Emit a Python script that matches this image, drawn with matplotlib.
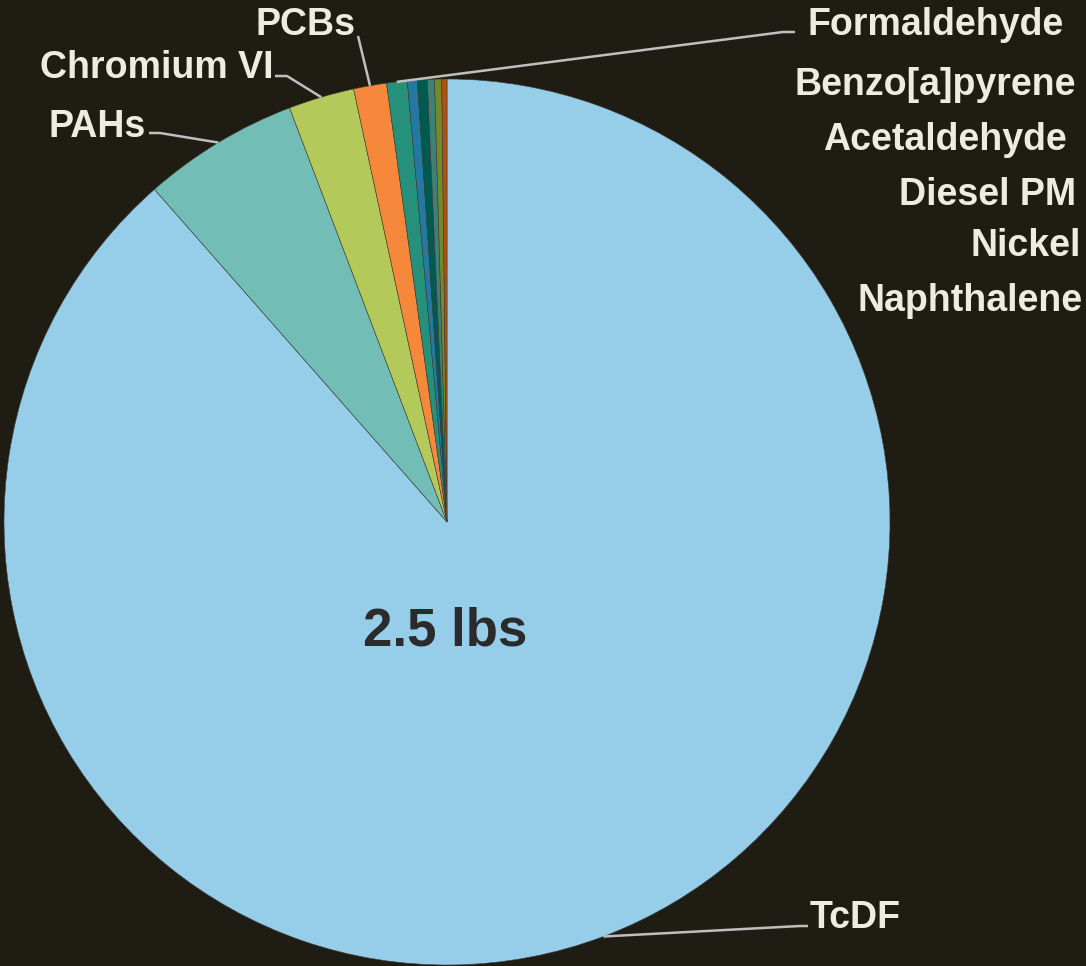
import numpy as np
import matplotlib.pyplot as plt

# pollutant shares of the 2.5 lbs total
pollutants = ["TcDF", "PAHs", "Chromium VI", "PCBs", "Formaldehyde",
              "Benzo[a]pyrene", "Acetaldehyde", "Diesel PM", "Nickel", "Naphthalene"]
shares = [88.5, 5.7, 2.4, 1.2, 0.75, 0.36, 0.36, 0.26, 0.26, 0.19]
colors = ["#96CDE8", "#72BDB5", "#B3CA5A", "#F5883A", "#25917A",
          "#2479A0", "#005A50", "#3E7F78", "#73892A", "#B2500F"]
total_label = "2.5 lbs"

W, H = 1086, 966
bg = "#1F1C13"
txt = "#EEEBE0"
line_col = "#BFBFBF"

fig = plt.figure(figsize=(W / 100, H / 100), dpi=100, facecolor=bg)
ax = fig.add_axes([0, 0, 1, 1])
ax.set_facecolor(bg)

cx, cy, r = 447, H - 522, 443
wedges, _ = ax.pie(shares, colors=colors, startangle=90, counterclock=False,
                   center=(cx, cy), radius=r,
                   wedgeprops=dict(linewidth=0.4, edgecolor="#40403a"))

ax.set_xlim(0, W)
ax.set_ylim(0, H)
ax.set_aspect("equal")
ax.axis("off")

plt.rcParams["font.family"] = ["Liberation Sans", "DejaVu Sans"]


def edge_point(w):
    mid = np.deg2rad((w.theta1 + w.theta2) / 2)
    return cx + r * np.cos(mid), cy + r * np.sin(mid)


# label text (x, y in pixels from top-left), alignment, elbow points of leader line
labels = {
    "TcDF": ((810, 918), "left", [(800, 926), (808, 926)]),
    "PAHs": ((146, 127), "right", [(160, 133), (149, 133)]),
    "Chromium VI": ((273, 68), "right", [(287, 76), (275, 76)]),
    "PCBs": ((355, 25), "right", [(358, 36)]),
    "Formaldehyde": ((808, 25), "left", [(783, 32), (795, 32)]),
    "Benzo[a]pyrene": ((1076, 85), "right", None),
    "Acetaldehyde": ((1067, 140), "right", None),
    "Diesel PM": ((1076, 195), "right", None),
    "Nickel": ((1081, 246), "right", None),
    "Naphthalene": ((1083, 301), "right", None),
}

for w, name in zip(wedges, pollutants):
    (tx, ty), ha, elbow = labels[name]
    ax.text(tx, H - ty, name, ha=ha, va="center", color=txt,
            fontsize=27, fontweight="bold")
    if elbow:
        ex, ey = edge_point(w)
        xs = [ex] + [p[0] for p in elbow]
        ys = [ey] + [H - p[1] for p in elbow]
        ax.plot(xs, ys, color=line_col, lw=1.8, solid_capstyle="butt")

ax.text(445, H - 631, total_label, ha="center", va="center",
        color="#2B2B2B", fontsize=38, fontweight="bold")

fig.savefig("out.png", dpi=100, facecolor=bg)
